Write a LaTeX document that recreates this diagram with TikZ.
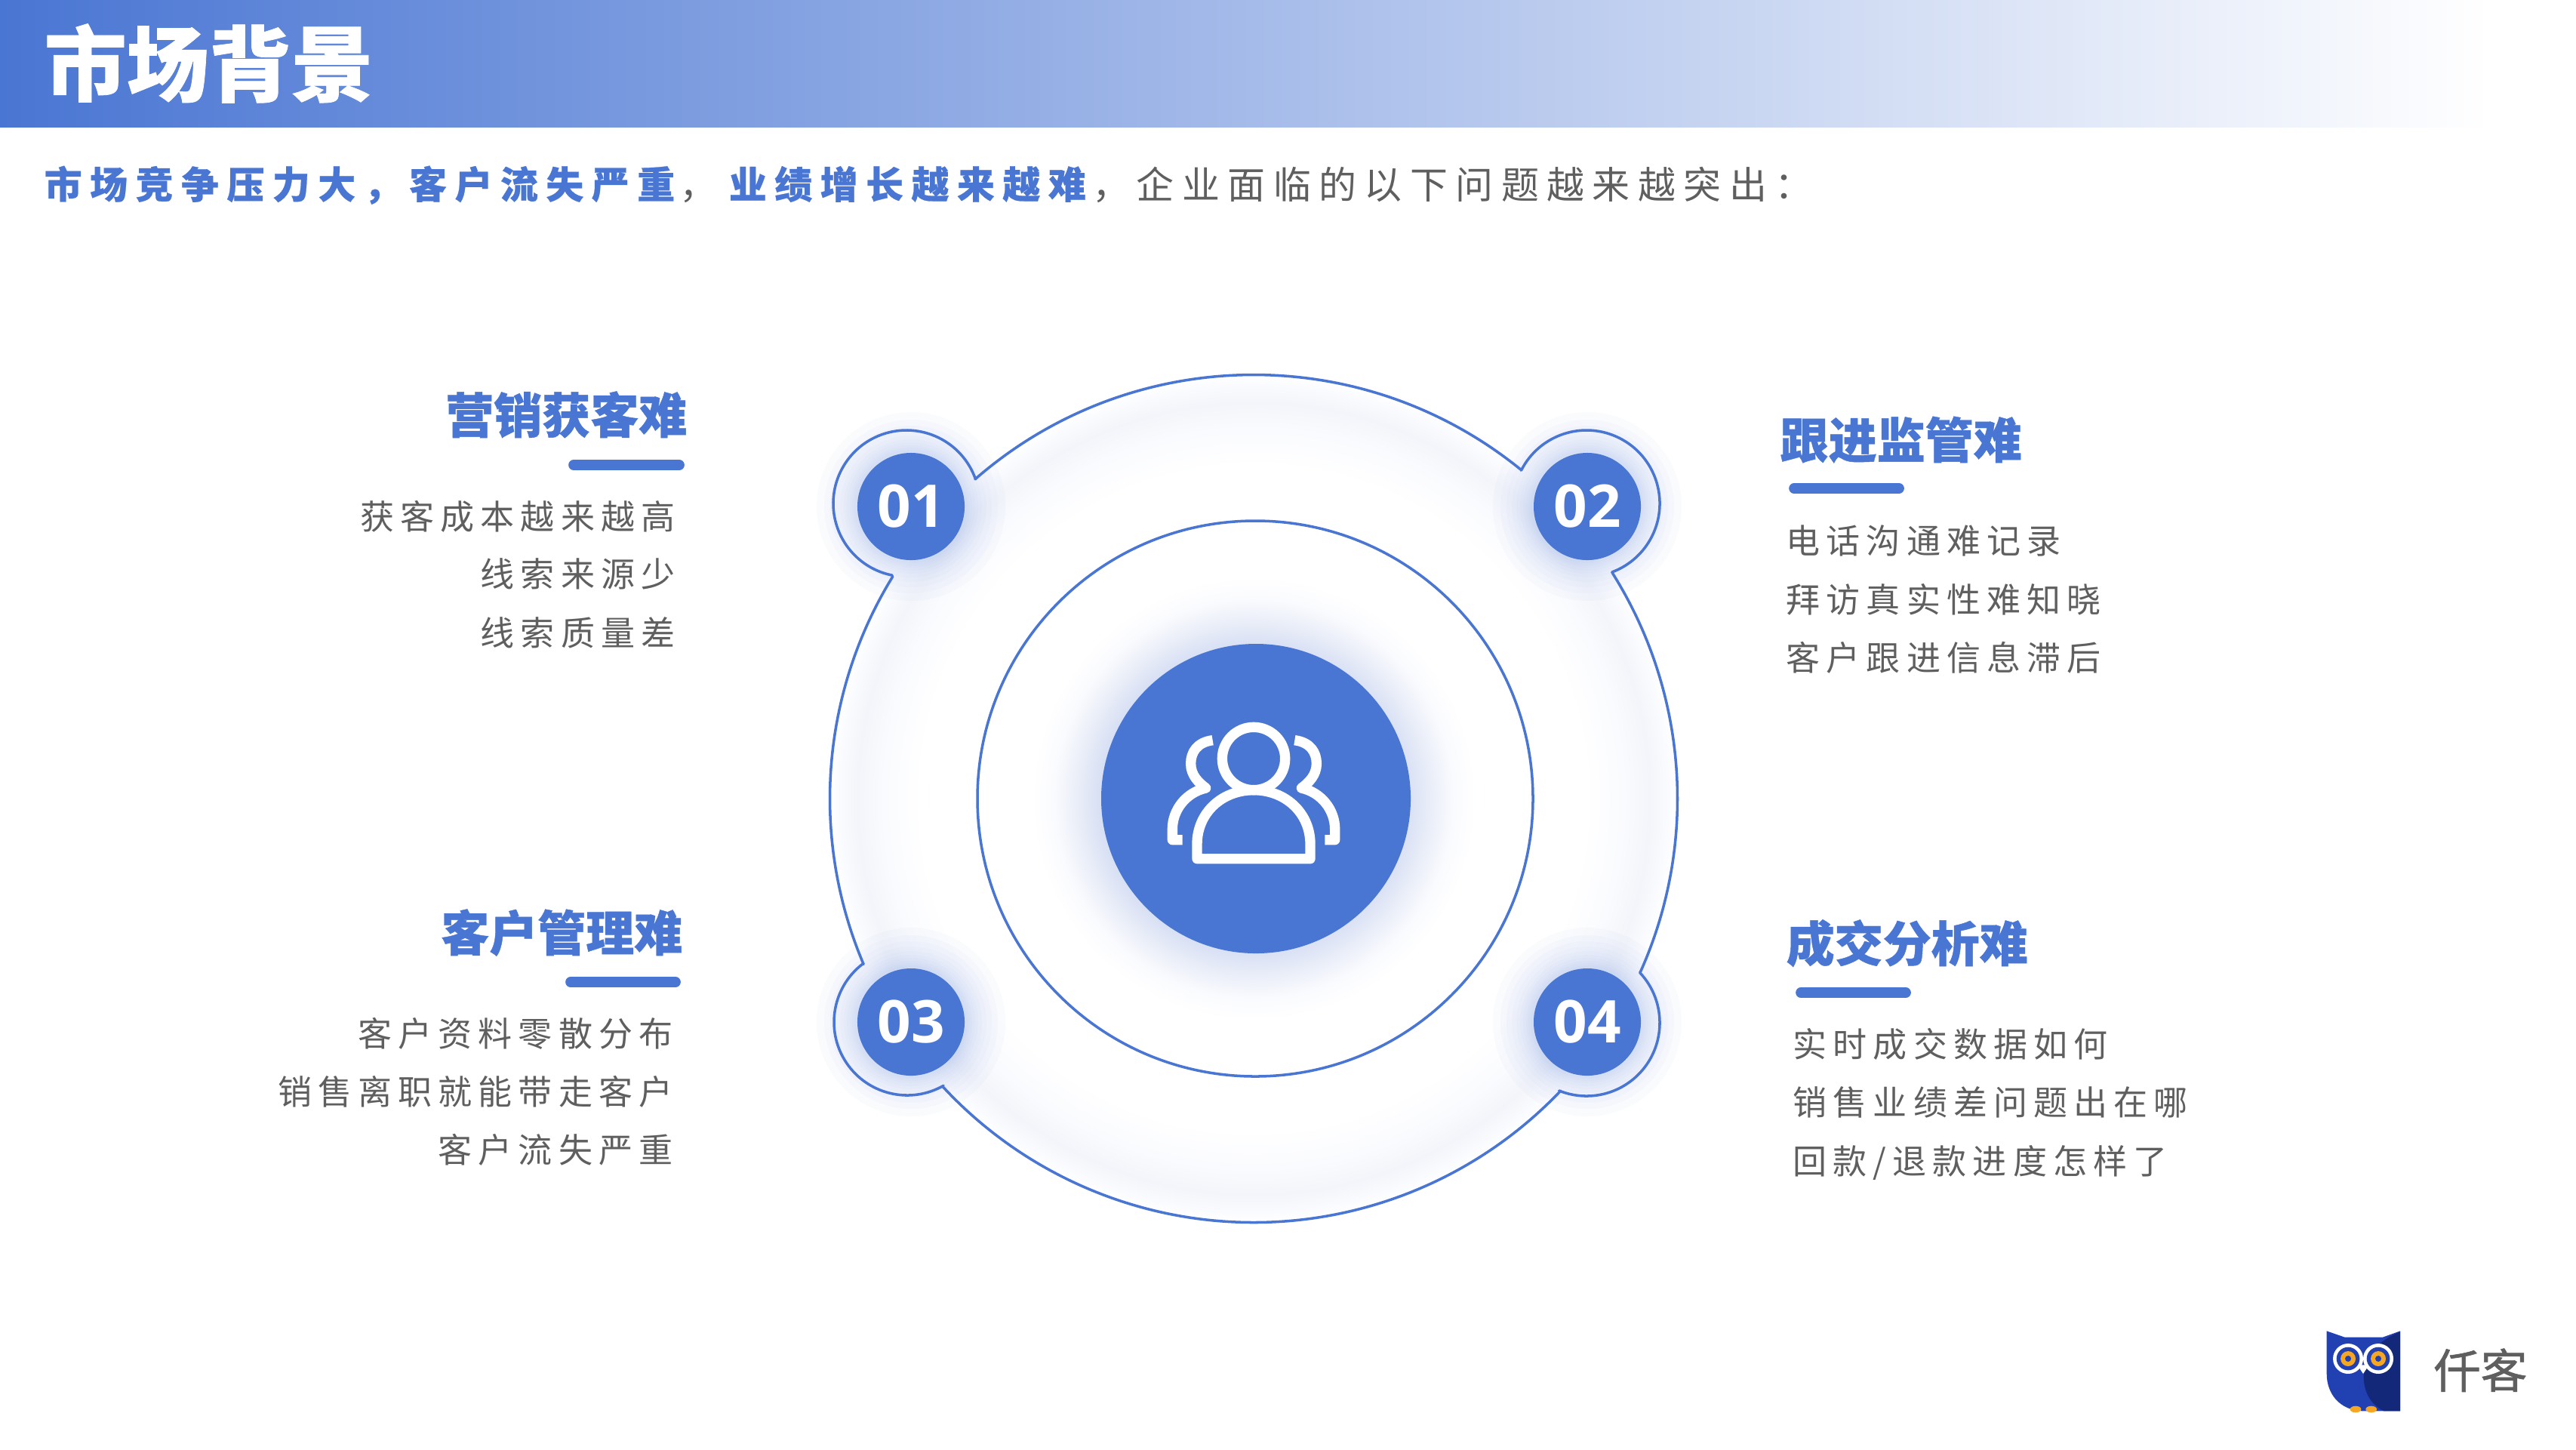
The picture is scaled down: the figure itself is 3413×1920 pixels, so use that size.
\documentclass[tikz,border=0pt]{standalone}
\usepackage{fontspec}
\newfontfamily\cjktitle[BoldFeatures={FakeBold=0.7}]{Noto Sans CJK SC}
\newfontfamily\cjkbrand[FakeBold=1]{Noto Sans CJK SC}
\newfontfamily\cjkspaced[LetterSpace=21,BoldFeatures={FakeBold=0.5}]{Noto Sans CJK SC}
\newfontfamily\cjkbody[LetterSpace=18]{Noto Sans CJK SC}
\newfontfamily\numfont{Open Sans}
\definecolor{mainblue}{HTML}{4A76D3}
\definecolor{bandmid}{HTML}{9CB3E8}
\definecolor{bodygray}{HTML}{5F5F5F}
\definecolor{owlblue}{HTML}{2140B2}
\definecolor{owldark}{HTML}{14287A}
\definecolor{owlorange}{HTML}{F5A623}
\definecolor{glowa}{HTML}{D8E0F4}
\definecolor{glowb}{HTML}{EAEEF8}
\definecolor{glowc}{HTML}{FAFBFE}
\definecolor{glowd}{HTML}{F4F5FA}
\pgfdeclareradialshading{ringglow}{\pgfpointorigin}{%
	color(0bp)=(white); color(9.1bp)=(glowa); color(10.45bp)=(glowb);
	color(11.8bp)=(glowc); color(13.1bp)=(white); color(19.55bp)=(white);
	color(21.8bp)=(glowc); color(23.35bp)=(glowd); color(24.4bp)=(glowc);
	color(25bp)=(white); color(50bp)=(white)}
\tikzset{
	titletext/.style={anchor=base west,inner sep=0,text=white,font=\cjktitle\bfseries\fontsize{31}{36}\selectfont},
	subtext/.style={anchor=base west,inner sep=0,text=bodygray,font=\cjkspaced\fontsize{14.2}{17}\selectfont},
	headleft/.style={anchor=base west,inner sep=0,text=mainblue,font=\cjktitle\bfseries\fontsize{18.2}{22}\selectfont},
	headright/.style={headleft,anchor=base east},
	bodyleft/.style={anchor=base west,inner sep=0,text=bodygray,font=\cjkbody\fontsize{12.8}{15}\selectfont},
	bodyright/.style={bodyleft,anchor=base east},
	numdot/.style={circle,fill=mainblue,inner sep=0,minimum size=40.4pt,text=white,font=\numfont\bfseries\fontsize{22.2}{26}\selectfont},
	ringline/.style={draw=mainblue,line width=1pt,line cap=round},
	headbar/.style={draw=mainblue,line width=3.9pt,line cap=round},
	iconline/.style={draw=white,line width=3.8pt,line join=round}
}
\begin{document}
\begin{tikzpicture}[x=0.01cm,y=-0.01cm]
	\useasboundingbox (0,0) rectangle (3413,1920);
	\fill[white] (0,0) rectangle (3413,1920);

	% header band
	\shade[left color=mainblue,middle color=bandmid,right color=white] (0,0) rectangle (3300,168);
	\node[titletext](title)at(58,126) {市场背景};
	\node[subtext](sub)at(58,263) {\textcolor{mainblue}{\bfseries 市场竞争压力大，客户流失严重}\hspace{1.85pt}，\hspace{4.35pt}\textcolor{mainblue}{\bfseries 业绩增长越来越难}\hspace{2.5pt}，\hspace{2.35pt}企业面临的以下问题越来越突出：};

	% glow under the rings
	\shade[shading=ringglow] (1661,1058) circle (562);
	\foreach \cx/\cy in {1207/671,2103/671,1207/1354,2103/1354}
		\foreach \gr in {75,78,81,85,89,94,100,107,115,125}
			\fill[mainblue,fill opacity=0.024] (\cx,\cy) circle (\gr);

	% rings
	\draw[ringline] (1663,1058) circle (368);
	\foreach \cx/\cy/\rad/\from/\to in {
		1661/1058/561.5/228.9/309.1, 1661/1058/561.5/327.8/384.2,
		1661/1058/561.5/43.6/137.2, 1661/1058/561.5/157/211.6,
		1201/667/97/340.6/101.2, 2102/667/97/206.8/429.7,
		1202/1354/97/233/60.3, 2102/1355/97/-43.3/112}
		\draw[ringline] (\cx,\cy) ++(\from:\rad) arc[start angle=\from,end angle=\to,radius=\rad];

	% hub and number dots
	\node[circle,fill=mainblue,inner sep=0,minimum size=116.6pt](hub)at(1664,1058) {};
	\node[numdot](dot1)at(1207,671) {01};
	\node[numdot](dot2)at(2103,671) {02};
	\node[numdot](dot3)at(1207,1354) {03};
	\node[numdot](dot4)at(2103,1354) {04};

	% people icon
	\begin{scope}[shift={(1661,840)},scale=1/3]
		\draw[iconline] (0,495) circle (125);
		\draw[iconline] (-225,893) -- (225,893) -- (225,835) .. controls (225,710) and (125,620) .. (0,620) .. controls (-125,620) and (-225,710) .. (-225,835) -- cycle;
		\foreach \side in {1,-1}
			\draw[iconline,xscale=\side] (-163,422) .. controls (-225,430) and (-250,470) .. (-250,515) .. controls (-250,560) and (-220,590) .. (-190,612) .. controls (-270,630) and (-323,700) .. (-323,775) -- (-323,818) -- (-283,818);
	\end{scope}

	% four topics
	\node[headright](head1)at(911,574) {营销获客难};
	\draw[headbar] (760,616) -- (900,616);
	\node[bodyright](body1a)at(895,701) {获客成本越来越高};
	\node[bodyright](body1b)at(895,777) {线索来源少};
	\node[bodyright](body1c)at(895,855) {线索质量差};

	\node[headleft](head2)at(2358,607) {跟进监管难};
	\draw[headbar] (2377,647) -- (2516,647);
	\node[bodyleft](body2a)at(2366,733) {电话沟通难记录};
	\node[bodyleft](body2b)at(2366,811) {拜访真实性难知晓};
	\node[bodyleft](body2c)at(2366,888) {客户跟进信息滞后};

	\node[headright](head3)at(905,1260) {客户管理难};
	\draw[headbar] (756,1301) -- (895,1301);
	\node[bodyright](body3a)at(892,1386) {客户资料零散分布};
	\node[bodyright](body3b)at(892,1463) {销售离职就能带走客户};
	\node[bodyright](body3c)at(892,1540) {客户流失严重};

	\node[headleft](head4)at(2366,1274) {成交分析难};
	\draw[headbar] (2386,1315) -- (2525,1315);
	\node[bodyleft](body4a)at(2375,1400) {实时成交数据如何};
	\node[bodyleft](body4b)at(2375,1477) {销售业绩差问题出在哪};
	\node[bodyleft](body4c)at(2375,1555) {回款/退款进度怎样了};

	% logo
	\begin{scope}[shift={(3050,1740)},scale=1/3]
		\fill[owlblue] (98,70) -- (170,95) -- (320,95) -- (390,70) -- (390,388) -- (240,388) .. controls (150,385) and (98,320) .. (98,240) -- cycle;
		\fill[owldark] (390,72) .. controls (300,110) and (245,170) .. (245,250) .. controls (245,310) and (270,360) .. (325,388) -- (390,388) -- cycle;
		\fill[white] (220,205) -- (266,205) -- (243,240) -- cycle;
		\foreach \ex in {183,303} {
			\fill[white] (\ex,180) circle (60);
			\fill[owlblue] (\ex,180) circle (46);
			\fill[owlorange] (\ex,180) circle (30);
			\fill[owlblue] (\ex,180) circle (12);
		}
		\foreach \fx in {213,275}
			\fill[owlorange] (\fx,381) ellipse (22 and 13);
	\end{scope}
	\node[anchor=base west,inner sep=0,text=bodygray,font=\cjkbrand\fontsize{17.6}{21}\selectfont](brand)at(3224,1839) {仟客};
\end{tikzpicture}
\end{document}
